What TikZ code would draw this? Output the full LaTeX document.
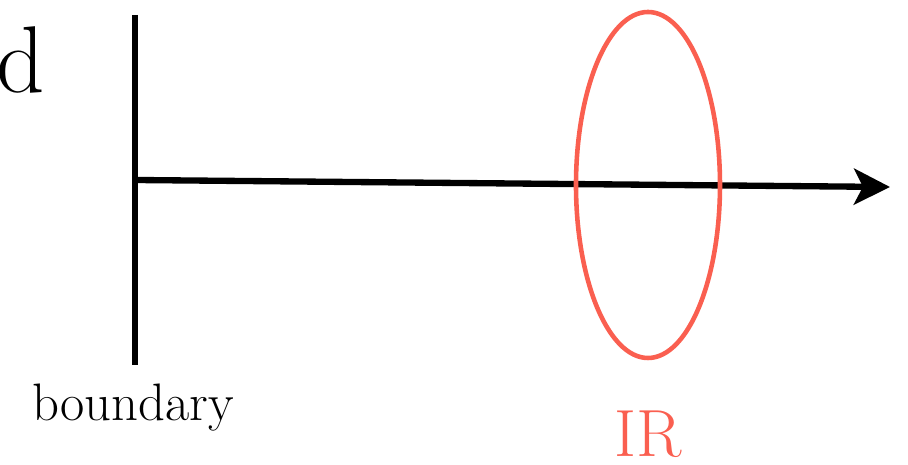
\documentclass[tikz,border=0pt]{standalone}
\usepackage{tikz}
\usetikzlibrary{
  arrows.meta,
  calc,
  shapes.geometric
}
\usepackage{xcolor}
\definecolor{irred}{RGB}{250, 95, 80}
\tikzset{
  % Chegara va o'q
  wallline/.style  = {line width=1.8pt, draw=black},
  flowline/.style  = {line width=1.8pt, draw=black,
                      -{Stealth[length=3.6mm, width=3.6mm, inset=0.9mm]}},
  % IR sohasi
  irring/.style    = {ellipse, draw=irred, line width=1.3pt,
                      minimum width=1.44cm, minimum height=3.46cm, inner sep=0pt},
  % Etiketlar
  lab/.style       = {inner sep=0pt, font=\fontsize{15}{17}\selectfont},
}

\begin{document}
\begin{tikzpicture}
  \useasboundingbox (0,0) rectangle (9.08,4.65);
  % Chegara
  \coordinate (B1) at (1.35,4.50);
  \coordinate (B2) at (1.35,1.00);
  \draw[wallline] (B1) -- (B2);
  % O'q
  \coordinate (P0) at (1.35,2.85);
  \coordinate (P1) at (8.90,2.78);
  \draw[flowline] (P0) -- (P1);
  % IR ellips
  \node[irring] (ir) at (6.48,2.80) {};
  % Etiketlar
  \node[lab, anchor=west, font=\fontsize{27}{29}\selectfont] (dlab) at (-0.04,4.05) {d};
  \node[lab] (blab) at (1.33,0.57) {boundary};
  \node[lab, text=irred, font=\fontsize{19}{21}\selectfont] (irlab) at (6.48,0.31) {IR};
\end{tikzpicture}
\end{document}
